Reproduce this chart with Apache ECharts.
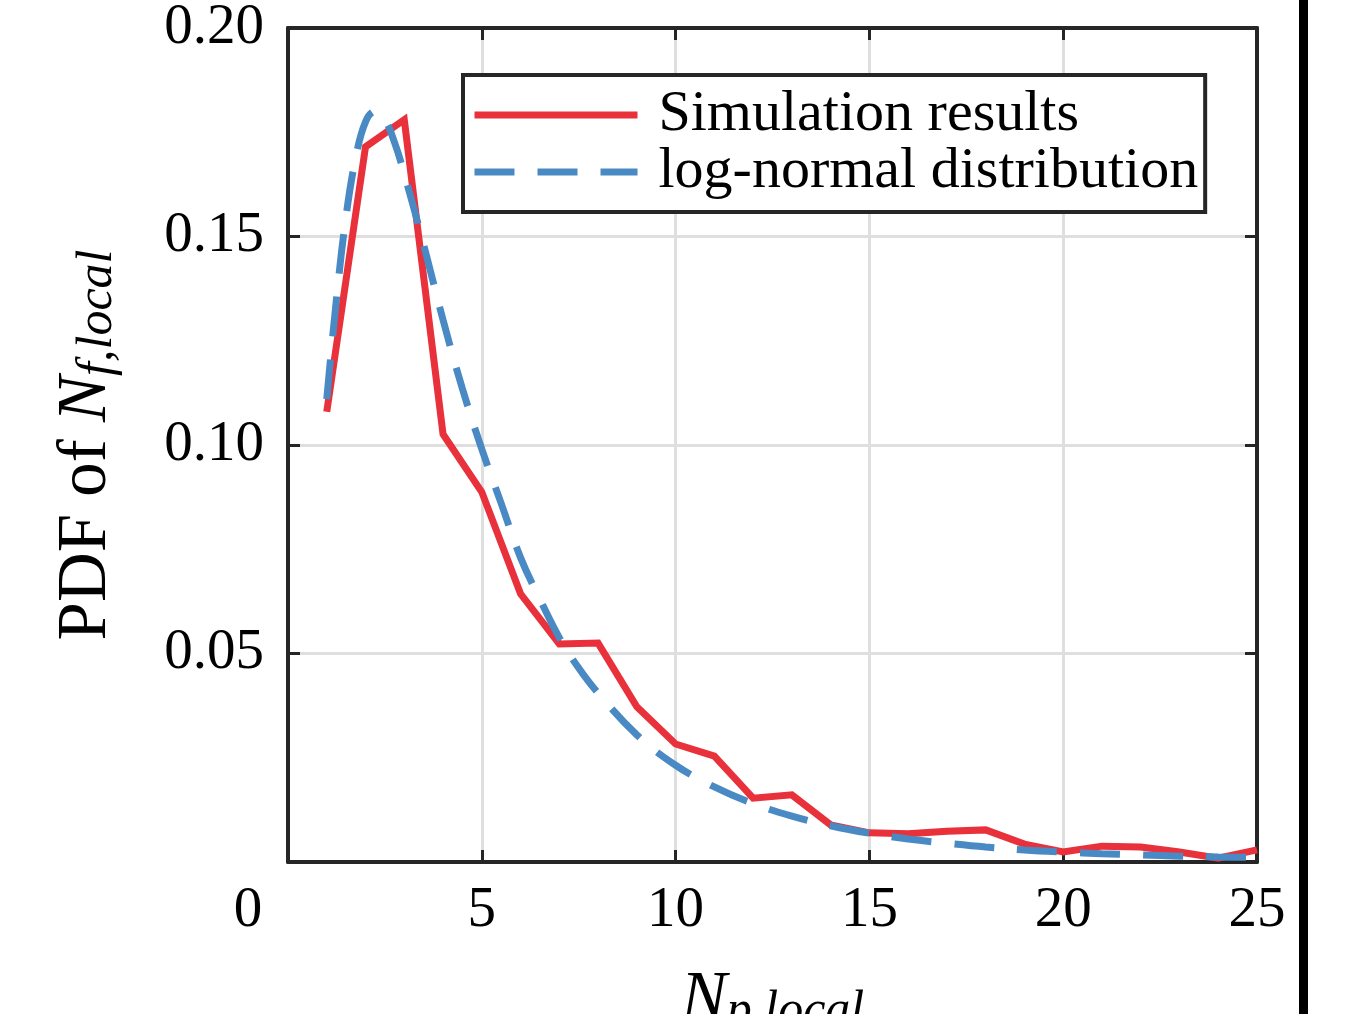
<!DOCTYPE html>
<html>
<head>
<meta charset="utf-8">
<script src="https://cdn.jsdelivr.net/npm/echarts@6/dist/echarts.min.js"></script>
<style>
  html, body { margin: 0; padding: 0; background: #fff; }
  #chart { width: 1347px; height: 1014px; }
</style>
</head>
<body>
<div id="chart"></div>
<script>
// Simulated PDF of N_local, one value per integer bin
const simX = [1, 2, 3, 4, 5, 6, 7, 8, 9, 10, 11, 12, 13, 14, 15, 16, 17, 18, 19, 20, 21, 22, 23, 24, 25];
const simPdf = [0.108, 0.1715, 0.178, 0.1026, 0.0887, 0.0643, 0.0523, 0.0525, 0.0372, 0.0283,
                0.0254, 0.0153, 0.0161, 0.0089, 0.0070, 0.0068, 0.0074, 0.0077, 0.0043, 0.0024,
                0.0038, 0.0036, 0.0024, 0.0009, 0.0029];

// Fitted log-normal density
const fitX = [1, 1.25, 1.5, 1.75, 2, 2.25, 2.5, 2.75, 3, 3.5, 4, 4.5, 5, 5.5, 6, 6.5, 7, 7.5, 8,
              9, 10, 11, 12, 13, 14, 15, 16, 17, 18, 19, 20, 21, 22, 23, 24, 25];
const fitPdf = [0.111, 0.135, 0.155, 0.169, 0.1775, 0.1800, 0.1780, 0.1725, 0.1650, 0.1480, 0.1300,
                0.1135, 0.0990, 0.0860, 0.0730, 0.0630, 0.0538, 0.0465, 0.0405,
                0.0305, 0.0232, 0.0180, 0.0140, 0.0110, 0.0087, 0.0069, 0.0055, 0.0045, 0.0036,
                0.0029, 0.0024, 0.0020, 0.0017, 0.0014, 0.0012, 0.0011];

const xRange = [0, 25, 5];        // min, max, step
const yRange = [0, 0.2, 0.05];

const seriesNames = ['Simulation results', 'log-normal distribution'];

const FONT = 'Liberation Serif, "Times New Roman", serif';
const FRAME = '#262626';
const GRIDC = '#DFDFDF';
const RED = '#E8313A';
const BLUE = '#4A8AC4';

const chart = echarts.init(document.getElementById('chart'), null, { renderer: 'canvas' });

function frameAxis(extra) {
  return Object.assign({
    type: 'value',
    axisLine: { show: true, onZero: false, lineStyle: { color: FRAME, width: 4 } },
    axisTick: { show: true, inside: true, length: 12, lineStyle: { color: FRAME, width: 3 } },
    splitLine: { show: false },
    axisLabel: { show: false }
  }, extra);
}

// italic symbol with a lowered subscript
const nameRich = {
  n: { fontFamily: FONT, fontSize: 69, fontStyle: 'italic', color: '#000', lineHeight: 73 },
  s: { fontFamily: FONT, fontSize: 50, fontStyle: 'italic', color: '#000', lineHeight: 36, verticalAlign: 'bottom' }
};

const option = {
  animation: false,
  backgroundColor: '#fff',
  grid: { left: 288, top: 28, right: 90, bottom: 152, outerBoundsMode: 'none', containLabel: false },
  xAxis: [
    frameAxis({
      position: 'bottom',
      min: xRange[0], max: xRange[1], interval: xRange[2],
      splitLine: { show: true, lineStyle: { color: GRIDC, width: 3 } },
      axisLabel: {
        show: true, color: '#000', fontFamily: FONT, fontSize: 57, margin: 21,
        formatter: v => v === 0 ? '{z|0}' : String(v),
        rich: { z: { fontFamily: FONT, fontSize: 57, color: '#000', padding: [0, 80, 0, 0] } }
      },
      name: '{n|N}{s|p,local}',
      nameLocation: 'middle',
      nameGap: 102,
      nameTextStyle: { fontFamily: FONT, fontSize: 69, color: '#000', lineHeight: 73, rich: nameRich }
    }),
    frameAxis({ position: 'top', min: xRange[0], max: xRange[1], interval: xRange[2] })
  ],
  yAxis: [
    frameAxis({
      position: 'left',
      min: yRange[0], max: yRange[1], interval: yRange[2],
      splitLine: { show: true, lineStyle: { color: GRIDC, width: 3 } },
      axisLabel: {
        show: true, color: '#000', fontFamily: FONT, fontSize: 57, margin: 24,
        formatter: v => v === 0 ? '' : v.toFixed(2)
      },
      name: 'PDF of {n|N}{s|f,local}',
      nameLocation: 'middle',
      nameGap: 165,
      nameTextStyle: { fontFamily: FONT, fontSize: 69, color: '#000', lineHeight: 73, rich: nameRich }
    }),
    frameAxis({ position: 'right', min: yRange[0], max: yRange[1], interval: yRange[2] })
  ],
  legend: {
    orient: 'vertical',
    left: 463, top: 75,
    backgroundColor: '#fff',
    borderColor: FRAME, borderWidth: 4, borderRadius: 0,
    padding: [11, 7, 11, 8],
    itemWidth: 163, itemHeight: 50, itemGap: -1,
    lineStyle: { width: 7 },
    itemStyle: { opacity: 0, borderWidth: 0 },
    textStyle: { fontFamily: FONT, fontSize: 58, color: '#000', lineHeight: 50, padding: [0, 0, 0, 16] },
    data: seriesNames
  },
  series: [
    {
      name: seriesNames[0],
      type: 'line',
      data: simX.map((x, i) => [x, simPdf[i]]),
      symbol: 'none', showSymbol: false,
      lineStyle: { color: RED, width: 7, join: 'miter', cap: 'butt' },
      itemStyle: { color: RED },
      z: 3
    },
    {
      name: seriesNames[1],
      type: 'line',
      data: fitX.map((x, i) => [x, fitPdf[i]]),
      smooth: 0.4,
      symbol: 'none', showSymbol: false,
      lineStyle: { color: BLUE, width: 7, type: [40, 23], cap: 'butt' },
      itemStyle: { color: BLUE },
      z: 4
    }
  ],
  graphic: [
    { type: 'rect', left: 1299, top: 0, shape: { width: 9, height: 1014 }, style: { fill: '#000' }, silent: true }
  ]
};

chart.setOption(option);
</script>
</body>
</html>
